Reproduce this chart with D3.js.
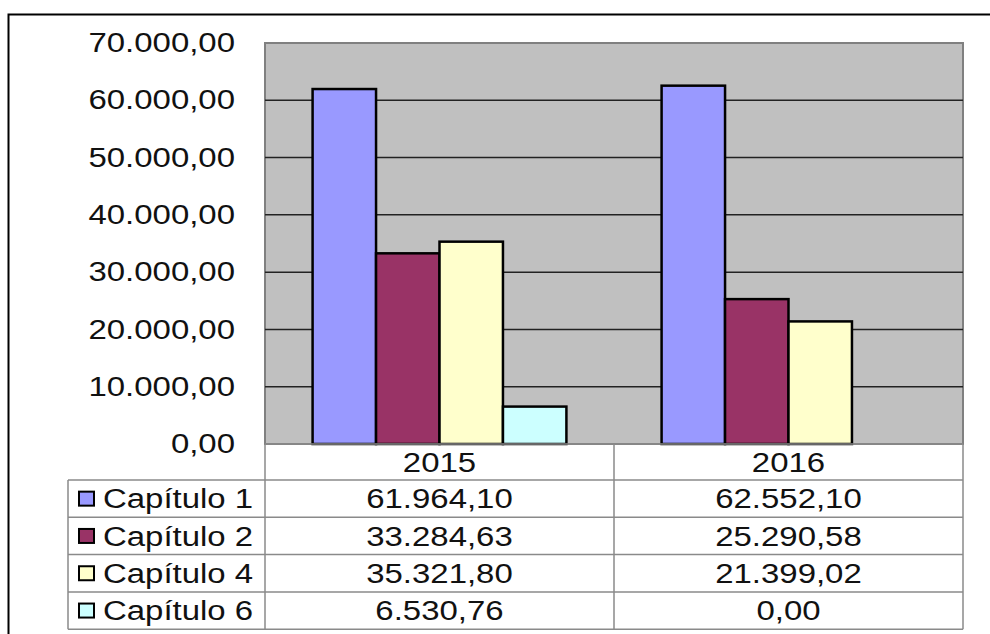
<!DOCTYPE html>
<html>
<head>
<meta charset="utf-8">
<script src="https://cdn.jsdelivr.net/npm/d3@7"></script>
<style>
  body { margin: 0; background: #fff; }
  svg { display: block; }
  text { font-family: "Liberation Sans", Arial, sans-serif; fill: #111; }
</style>
</head>
<body>
<div class="chart"></div>
<script>
// data
var years = ["2015", "2016"];
var seriesNames = ["Capítulo 1", "Capítulo 2", "Capítulo 4", "Capítulo 6"];
var cap1 = [61964.10, 62552.10];
var cap2 = [33284.63, 25290.58];
var cap4 = [35321.80, 21399.02];
var cap6 = [6530.76, 0.00];
var colors = ["#9999ff", "#993366", "#ffffcc", "#ccffff"];
var yTicks = [0, 10000, 20000, 30000, 40000, 50000, 60000, 70000];

var seriesValues = [cap1, cap2, cap4, cap6];

var svgWidth = 990, svgHeight = 634;
var plot = { left: 265, right: 963, top: 43, bottom: 444 };
var table = { left: 68, headerTop: 444, rowTop: 480, rowH: 37.3 };
var fontSize = 27, stretchX = 1.22;

var fmt = d3.formatLocale({ decimal: ",", thousands: ".", grouping: [3], currency: ["", "€"] }).format(",.2f");

var svg = d3.select(".chart")
    .append("svg")
    .attr("width", svgWidth)
    .attr("height", svgHeight);

// widen the glyphs a bit, the original text is stretched horizontally
function stretch(sel) {
    sel.each(function() {
        var w = this.getComputedTextLength();
        d3.select(this)
            .attr("textLength", w * stretchX)
            .attr("lengthAdjust", "spacingAndGlyphs");
    });
}

// outer chart frame (only top and left show in the crop)
svg.append("rect")
    .attr("x", 8.5).attr("y", 14.5)
    .attr("width", 1000).attr("height", 700)
    .attr("fill", "none")
    .attr("stroke", "#000")
    .attr("stroke-width", 2);

// scales
var xScale = d3.scaleBand()
    .domain(years)
    .range([plot.left, plot.right]);

var xInner = d3.scaleBand()
    .domain(d3.range(seriesNames.length))
    .range([0, xScale.bandwidth()])
    .paddingOuter(0.75);

var yScale = d3.scaleLinear()
    .domain([0, 70000])
    .range([plot.bottom, plot.top]);

// plot area
svg.append("rect")
    .attr("x", plot.left).attr("y", plot.top)
    .attr("width", plot.right - plot.left)
    .attr("height", plot.bottom - plot.top)
    .attr("fill", "#c0c0c0")
    .attr("stroke", "#808080")
    .attr("stroke-width", 2);

// gridlines
svg.append("g")
    .selectAll("line")
    .data(yTicks.filter(d => d > 0 && d < 70000))
    .enter()
    .append("line")
    .attr("x1", plot.left).attr("x2", plot.right)
    .attr("y1", d => yScale(d)).attr("y2", d => yScale(d))
    .attr("stroke", "#222")
    .attr("stroke-width", 1.5);

// y axis labels
var yAxis = d3.axisLeft(yScale)
    .tickValues(yTicks)
    .tickSize(0)
    .tickPadding(30)
    .tickFormat(fmt);

var yAxisG = svg.append("g")
    .attr("transform", `translate(${plot.left}, 0)`)
    .call(yAxis);
yAxisG.select(".domain").remove();
yAxisG.selectAll("text")
    .attr("font-size", fontSize)
    .attr("font-family", "Liberation Sans, Arial, sans-serif")
    .attr("fill", "#111")
    .call(stretch);

// bars
var barData = [];
seriesValues.forEach((vals, s) => {
    vals.forEach((v, i) => barData.push({ s: s, year: years[i], value: v }));
});

svg.append("g")
    .selectAll("rect")
    .data(barData.filter(d => d.value > 0))
    .enter()
    .append("rect")
    .attr("x", d => xScale(d.year) + xInner(d.s))
    .attr("y", d => yScale(d.value))
    .attr("width", xInner.bandwidth())
    .attr("height", d => yScale(0) - yScale(d.value))
    .attr("fill", d => colors[d.s])
    .attr("stroke", "#000")
    .attr("stroke-width", 2.5);

// data table
var gridColor = "#8a8a8a";
var tableBottom = table.rowTop + table.rowH * seriesNames.length;
var tableG = svg.append("g");

// horizontal lines
var hLines = [table.headerTop].concat(d3.range(seriesNames.length + 1).map(i => table.rowTop + i * table.rowH));
tableG.selectAll("line.h")
    .data(hLines)
    .enter()
    .append("line")
    .attr("class", "h")
    .attr("x1", (d, i) => i === 0 ? plot.left : table.left)
    .attr("x2", plot.right)
    .attr("y1", d => d).attr("y2", d => d)
    .attr("stroke", gridColor)
    .attr("stroke-width", 1.5);

// vertical lines
tableG.append("line")
    .attr("x1", table.left).attr("x2", table.left)
    .attr("y1", table.rowTop).attr("y2", tableBottom)
    .attr("stroke", gridColor).attr("stroke-width", 1.5);
tableG.selectAll("line.v")
    .data([plot.left, xScale(years[1]), plot.right])
    .enter()
    .append("line")
    .attr("class", "v")
    .attr("x1", d => d).attr("x2", d => d)
    .attr("y1", table.headerTop).attr("y2", tableBottom)
    .attr("stroke", gridColor).attr("stroke-width", 1.5);

// year headers
tableG.selectAll("text.year")
    .data(years)
    .enter()
    .append("text")
    .attr("class", "year")
    .attr("x", d => xScale(d) + xScale.bandwidth() / 2)
    .attr("y", (table.headerTop + table.rowTop) / 2)
    .attr("dy", "0.36em")
    .attr("text-anchor", "middle")
    .attr("font-size", fontSize)
    .text(d => d)
    .call(stretch);

// rows: legend key + name + values
var rows = tableG.selectAll("g.row")
    .data(seriesNames)
    .enter()
    .append("g")
    .attr("class", "row")
    .attr("transform", (d, i) => `translate(0, ${table.rowTop + i * table.rowH + table.rowH / 2})`);

rows.append("rect")
    .attr("x", 79).attr("y", -7)
    .attr("width", 15).attr("height", 14)
    .attr("fill", (d, i) => colors[i])
    .attr("stroke", "#000")
    .attr("stroke-width", 2);

rows.append("text")
    .attr("x", 103)
    .attr("dy", "0.36em")
    .attr("font-size", fontSize)
    .text(d => d)
    .call(stretch);

rows.each(function(name, s) {
    d3.select(this).selectAll("text.val")
        .data(seriesValues[s])
        .enter()
        .append("text")
        .attr("class", "val")
        .attr("x", (d, i) => xScale(years[i]) + xScale.bandwidth() / 2)
        .attr("dy", "0.36em")
        .attr("text-anchor", "middle")
        .attr("font-size", fontSize)
        .text(d => fmt(d))
        .call(stretch);
});
</script>
</body>
</html>
